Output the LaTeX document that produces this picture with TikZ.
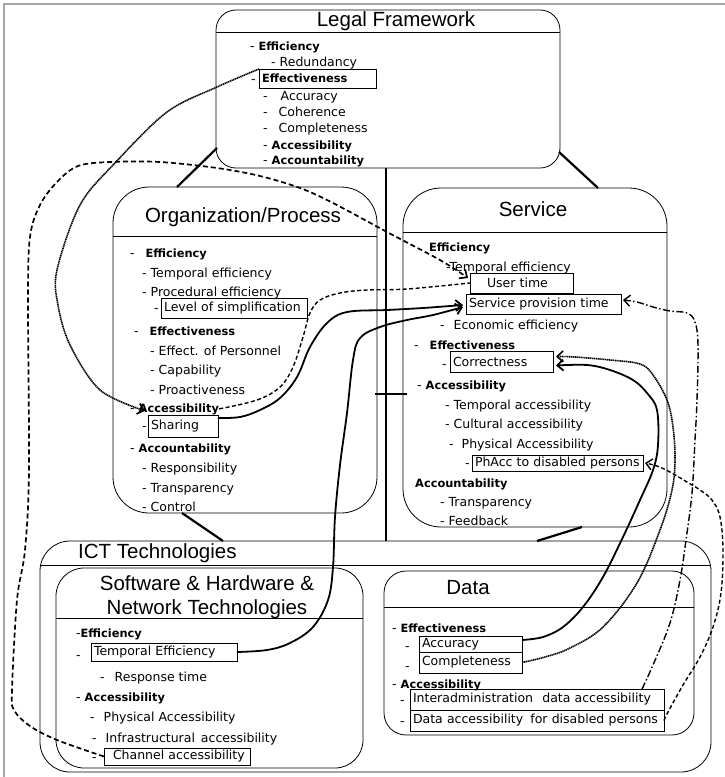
\documentclass[tikz,border=0pt]{standalone}
\usepackage{fontspec}
\setmainfont{DejaVu Sans}
\newfontfamily\hfont{Liberation Sans}
\usetikzlibrary{arrows.meta,calc}
\newcommand\itemfnt{\fontsize{12.5}{14}\selectfont}
\newcommand\bw[1]{{\fontsize{11.4}{13}\selectfont\bfseries #1}}
\newcommand\hdfnt{\hfont\fontsize{20.5}{24}\selectfont}
\begin{document}
\begin{tikzpicture}[x=1pt,y=-1pt,
  box/.style={draw, line width=0.8pt, rounded corners=#1, inner sep=0pt, outer sep=0pt},
  hline/.style={line width=0.8pt},
  hd/.style={font=\hdfnt, inner sep=0pt},
  it/.style={anchor=base west, inner sep=0pt, font=\itemfnt},
  bx/.style={draw, line width=0.7pt, anchor=north west, inner xsep=3pt, inner ysep=0pt, outer sep=0pt, align=left, font=\itemfnt},
  link/.style={line width=2.2pt},
  vlink/.style={line width=2.4pt},
  arr/.style={-{Straight Barb[length=6pt,width=11pt]}},
  solidc/.style={line width=1.8pt},
  dotc/.style={line width=1.6pt, dash pattern=on 1.3pt off 0.6pt},
  dashc/.style={line width=1.7pt, dash pattern=on 5pt off 3pt},
  mdashc/.style={line width=1.4pt, dash pattern=on 4pt off 2.5pt},
  ddotc/.style={line width=1.4pt, dash pattern=on 7pt off 2.5pt on 1.5pt off 2.5pt},
  frame/.style={line width=1.2pt, gray!70}
]
\useasboundingbox (0,0) rectangle (725,777);
\fill[white] (0,0) rectangle (725,777);
\draw[frame] (4,777) -- (4,4) -- (725,4);

% ---------- boxes ----------
\node[box=20, minimum width=344pt, minimum height=158pt] (legal) at (388,89) {};
\draw[hline] ($(legal.north west)+(0,22)$) -- ($(legal.north east)+(0,22)$);
\node[box=36, minimum width=264pt, minimum height=326pt] (org) at (245,350) {};
\draw[hline] ($(org.north west)+(0,49)$) -- ($(org.north east)+(0,49)$);
\node[box=38, minimum width=264pt, minimum height=339pt] (svc) at (535,357.5) {};
\draw[hline] ($(svc.north west)+(0,44)$) -- ($(svc.north east)+(0,44)$);
\node[box=30, minimum width=671pt, minimum height=231pt] (ict) at (375.5,656.5) {};
\draw[hline] ($(ict.north west)+(0,24)$) -- ($(ict.north east)+(0,24)$);
\node[box=28, minimum width=307pt, minimum height=200pt] (sw) at (209.5,668) {};
\draw[hline] ($(sw.north west)+(0,50)$) -- ($(sw.north east)+(0,50)$);
\node[box=22, minimum width=310pt, minimum height=164pt] (data) at (539,653) {};
\draw[hline] ($(data.north west)+(0,36)$) -- ($(data.north east)+(0,36)$);

% ---------- titles ----------
\node[hd] (lt) at (396,21) {Legal Framework};
\node[hd] (ot) at (243,217) {Organization/Process};
\node[hd] (st) at (533,209) {Service};
\node[hd, anchor=west] (ictt) at (78,553) {ICT Technologies};
\node[hd, align=center] (swt) at (207,597) {Software \& Hardware \&\\Network Technologies};
\node[hd] (dtt) at (468,588) {Data};

% ---------- links between boxes ----------
\draw[link] ($(legal.south west)+(1,-20)$) -- ($(org.north west)+(64,0)$);
\draw[link] ($(legal.south east)+(-1,-16)$) -- ($(svc.north west)+(195,0)$);
\draw[link] ($(org.south west)+(69,0)$) -- ($(ict.north west)+(183,0)$);
\draw[link] ($(svc.south west)+(179,0)$) -- ($(ict.north west)+(497,0)$);
\draw[vlink] ($(legal.south west)+(170,0)$) -- ($(ict.north west)+(346,0)$);
\draw[vlink] (375,394) -- (407,394);

% ---------- Legal Framework items ----------
\node[it] (lf1) at (250,50) {- \bw{Efficiency}};
\node[it] (lf2) at (271,66) {- Redundancy};
\node[it] (lf3) at (251,83) {-};
\node[bx, text width=111pt, minimum height=19pt] (effL) at (259,69) {\bw{Effectiveness}};
\node[it] (lf4) at (263,100) {-\hspace{13pt}Accuracy};
\node[it] (lf5) at (263,116) {-\hspace{11pt}Coherence};
\node[it] (lf6) at (263,132) {-\hspace{11pt}Completeness};
\node[it] (lf7) at (263,149) {- \bw{Accessibility}};
\node[it] (lf8) at (263,164) {- \bw{Accountability}};

% ---------- Organization/Process items ----------
\node[it] (op1) at (130,257) {-\hspace{11pt}\bw{Efficiency}};
\node[it] (op2) at (142,277) {- Temporal efficiency};
\node[it] (op3) at (142,296) {- Procedural efficiency};
\node[it] (op4) at (154,312) {-};
\node[bx, text width=140pt, minimum height=20pt] (simp) at (161,298) {Level of simplification};
\node[it] (op5) at (134,335) {-\hspace{11pt}\bw{Effectiveness}};
\node[it] (op6) at (150,355) {- Effect. of Personnel};
\node[it] (op7) at (150,374) {- Capability};
\node[it] (op8) at (150,394) {- Proactiveness};
\node[it] (oacc) at (130,412) {- \bw{Accessibility}};
\node[it] (op9) at (142,430) {-};
\node[bx, text width=64pt, minimum height=22pt] (sharing) at (148,415) {Sharing};
\node[it] (op10) at (130,452) {- \bw{Accountability}};
\node[it] (op11) at (142,472) {- Responsibility};
\node[it] (op12) at (142,492) {- Transparency};
\node[it] (op13) at (142,511) {- Control};

% ---------- Service items ----------
\node[it] (sv1) at (429,251) {\bw{Efficiency}};
\node[it] (sv2) at (446,271) {-Temporal efficiency};
\node[bx, text width=97pt, minimum height=20pt] (ut) at (470,273) {\hspace{14pt}User time};
\node[bx, text width=149pt, minimum height=20pt] (spt) at (466,294) {Service provision time};
\node[it] (sv3) at (440,329) {-\hspace{9pt}Economic efficiency};
\node[it] (sv4) at (414,349) {-\hspace{11pt}\bw{Effectiveness}};
\node[it] (sv5) at (442,368) {-};
\node[bx, text width=97pt, minimum height=21pt] (corr) at (450,351) {Correctness};
\node[it] (sv6) at (417,389) {- \bw{Accessibility}};
\node[it] (sv7) at (445,409) {- Temporal accessibility};
\node[it] (sv8) at (445,428) {- Cultural accessibility};
\node[it] (sv9) at (449,448) {-\hspace{8pt}Physical Accessibility};
\node[it] (sv10) at (465,467) {-};
\node[bx, text width=165pt, minimum height=16pt] (phacc) at (472,455) {PhAcc to disabled persons};
\node[it] (sv11) at (415,487) {\bw{Accountability}};
\node[it] (sv12) at (440,506) {- Transparency};
\node[it] (sv13) at (440,525) {- Feedback};

% ---------- Software items ----------
\node[it] (sw1) at (76,637) {-\bw{Efficiency}};
\node[it] (sw2) at (76,659) {-};
\node[bx, text width=140pt, minimum height=18pt] (tempE) at (91,643) {Temporal Efficiency};
\node[it] (sw3) at (100,681) {-\hspace{10pt}Response time};
\node[it] (sw4) at (76,701) {- \bw{Accessibility}};
\node[it] (sw5) at (90,721) {-\hspace{9pt}Physical Accessibility};
\node[it] (sw6) at (92,742) {-\hspace{9pt}Infrastructural\hspace{6pt}accessibility};
\node[it] (sw7) at (92,761) {-};
\node[bx, text width=140pt, minimum height=17pt] (chan) at (104,748) {\hspace{6pt}Channel accessibility};

% ---------- Data items ----------
\node[it] (dt1) at (392,632) {- \bw{Effectiveness}};
\node[it] (dt2) at (405,650) {-};
\node[bx, text width=97pt, minimum height=16pt] (dacc) at (419,636) {Accuracy};
\node[it] (dt3) at (405,670) {-};
\node[bx, text width=97pt, minimum height=21pt] (dcomp) at (419,652) {Completeness};
\node[it] (dt4) at (392,688) {- \bw{Accessibility}};
\node[it] (dt5) at (400,704) {-};
\node[bx, text width=248pt, minimum height=21pt] (inter) at (410,689) {Interadministration\hspace{5pt} data accessibility};
\node[it] (dt6) at (400,725) {-};
\node[bx, text width=248pt, minimum height=21pt] (dadis) at (410,710) {Data accessibility\hspace{3pt} for disabled persons};

% ---------- connector end points ----------
\coordinate (t1) at ($(oacc.west)+(15,2)$);
\coordinate (t2) at ($(ut.north west)+(-2,5)$);
\coordinate (s4) at ($(sharing.north east)+(0,3)$);
\coordinate (t4) at ($(spt.west)+(-3,1)$);
\coordinate (t5) at ($(spt.west)+(-3,3)$);
\coordinate (s6) at ($(dacc.east)+(0,-4)$);
\coordinate (t6) at ($(corr.east)+(3,4)$);
\coordinate (t7) at ($(corr.east)+(3,-5)$);
\coordinate (s8) at ($(inter.north east)+(-22,0)$);
\coordinate (t8) at ($(spt.east)+(2,-4)$);
\coordinate (t9) at ($(phacc.east)+(2,0)$);

% ---------- connectors ----------
\draw[dotc, arr] plot[smooth, tension=0.55] coordinates {(effL.north west) (217,87) (167,112) (115,163) (80,205) (57,270) (58,305) (70,345) (100,390) (t1)};
\draw[dashc, arr] plot[smooth, tension=0.55] coordinates {(chan.west) (57,740) (30,726) (14,710) (12,690) (17,600) (25,550) (29,470) (28,300) (30,237) (40,205) (57,182) (78,166) (110,162) (160,162) (217,168) (260,176) (300,188) (333,203) (387,232) (440,260) (t2)};
\draw[mdashc] plot[smooth, tension=0.6] coordinates {(oacc.east) (257,400) (280,387) (293,367) (303,337) (310,313) (320,300) (340,293) (367,290) (407,289) (ut.west)};
\draw[solidc, arr] plot[smooth, tension=0.6] coordinates {(s4) (240,417) (260,410) (280,398) (297,377) (310,347) (327,323) (347,312) (387,310) (423,308) (t4)};
\draw[solidc, arr] plot[smooth, tension=0.6] coordinates {(tempE.east) (267,650) (290,643) (313,627) (328,600) (333,567) (335,517) (340,465) (347,413) (353,360) (360,338) (380,327) (407,320) (433,315) (t5)};
\draw[solidc, arr] plot[smooth, tension=0.6] coordinates {(s6) (543,637) (563,627) (583,607) (603,577) (623,537) (640,500) (653,470) (658,445) (657,410) (647,393) (633,380) (610,370) (587,365) (t6)};
\draw[dotc, arr] plot[smooth, tension=0.6] coordinates {(dcomp.east) (545,657) (570,648) (603,627) (637,583) (660,530) (672,490) (675,460) (673,427) (667,400) (653,375) (640,364) (610,360) (575,357) (t7)};
\draw[ddotc, arr] plot[smooth, tension=0.6] coordinates {(s8) (653,665) (670,623) (680,580) (686,540) (692,493) (695,440) (697,400) (698,345) (695,322) (687,313) (670,311) (653,307) (637,302) (t8)};
\draw[mdashc, arr] plot[smooth, tension=0.6] coordinates {(dadis.east) (668,712) (683,685) (700,657) (713,627) (721,593) (723,550) (720,517) (712,500) (700,490) (687,482) (670,472) (657,466) (t9)};
\end{tikzpicture}
\end{document}
